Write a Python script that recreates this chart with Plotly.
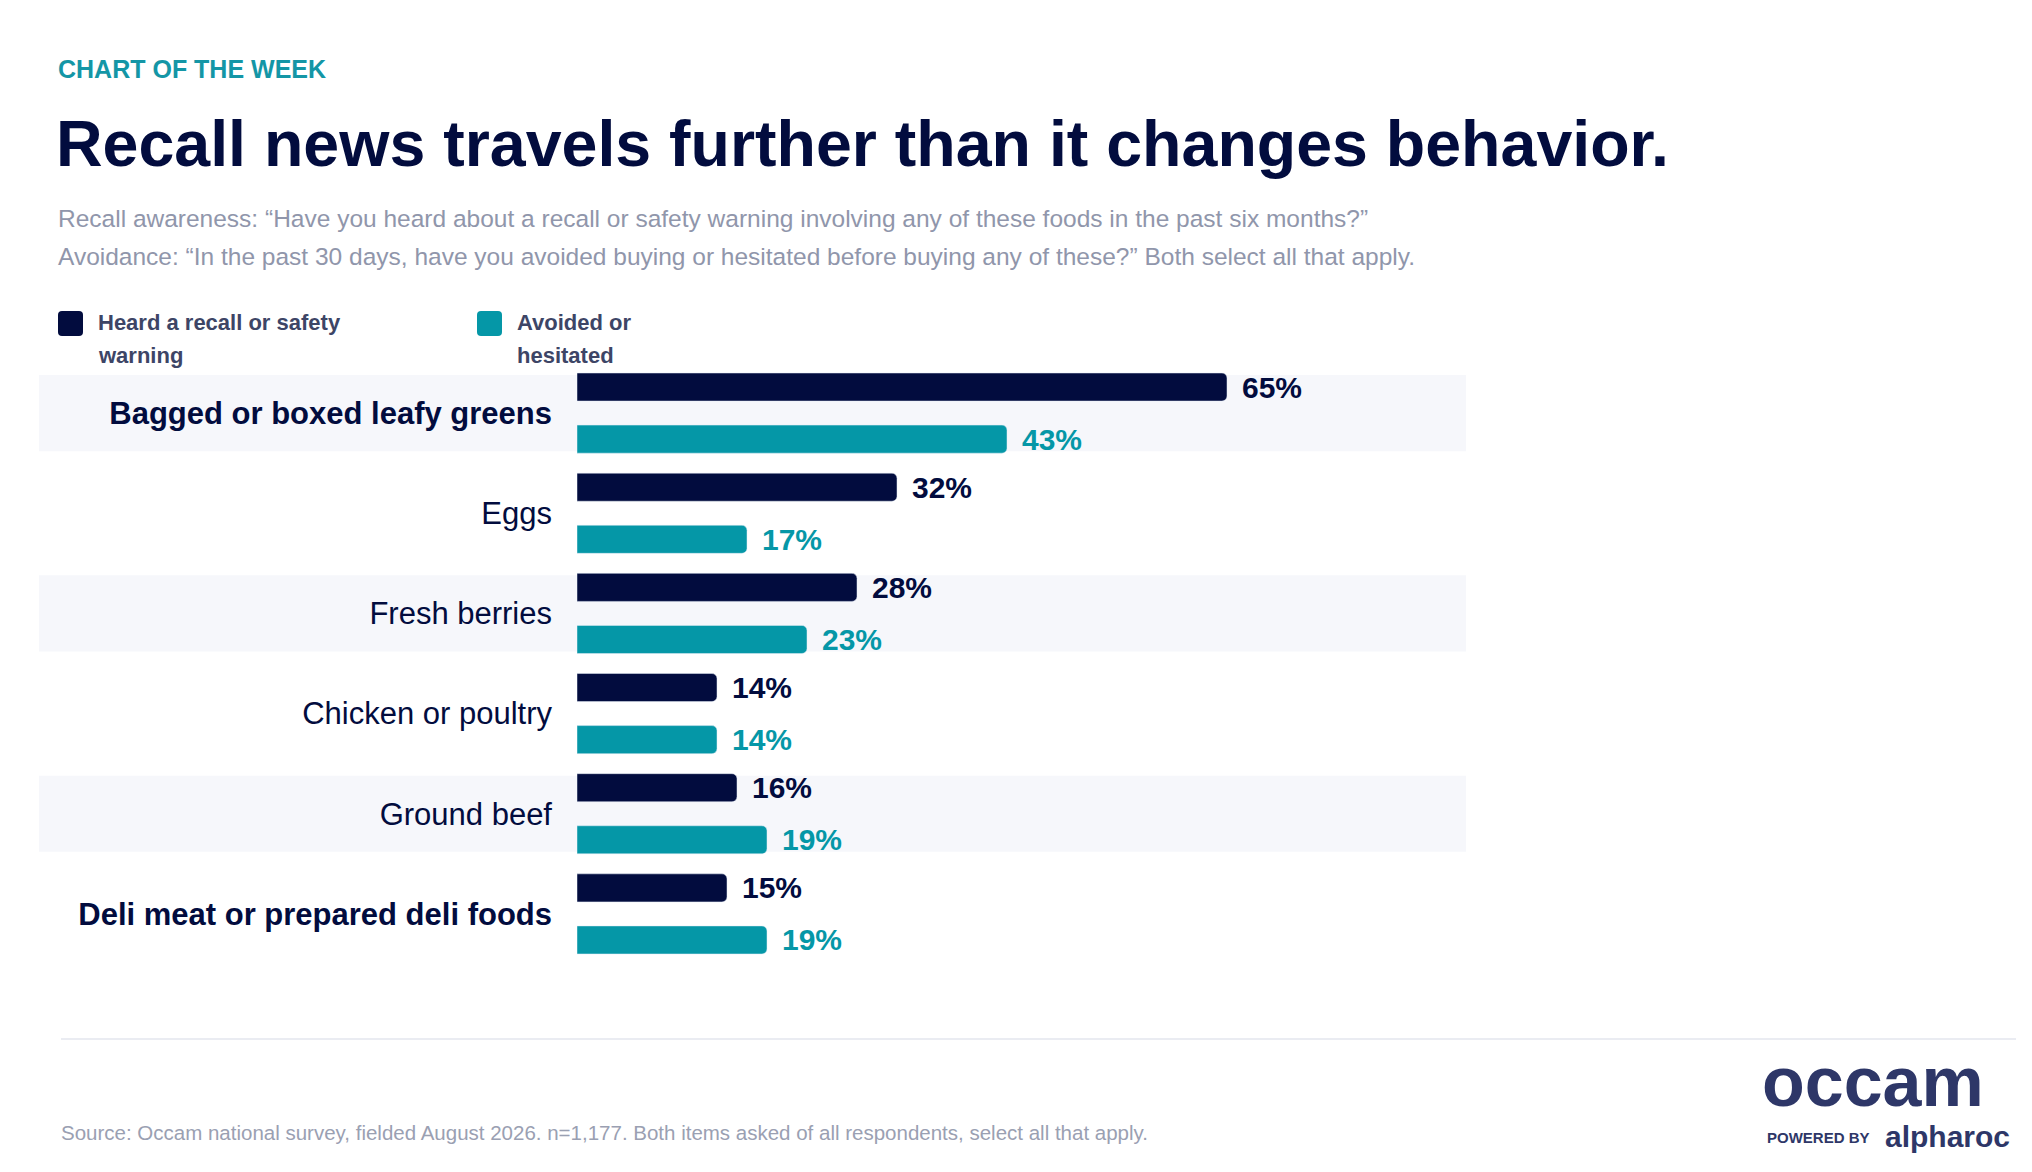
import plotly.graph_objects as go

# survey data
categories = ["Bagged or boxed leafy greens", "Eggs", "Fresh berries",
              "Chicken or poultry", "Ground beef", "Deli meat or prepared deli foods"]
heard = [65, 32, 28, 14, 16, 15]
avoided = [43, 17, 23, 14, 19, 19]
bold_rows = ["Bagged or boxed leafy greens", "Deli meat or prepared deli foods"]
series_names = [["Heard a recall or safety", "warning"], ["Avoided or", "hesitated"]]

NAVY = "#020c3e"
TEAL = "#0597a7"
BAND = "#f6f7fb"
W, H = 2032, 1172
OFF = 8  # page body margin in the browser


def px(x):
    return (x - OFF) / W


def py(y):
    return 1 - (y - OFF) / H


def rrect(x0, y0, x1, y1, r):
    # rounded rectangle path in paper coords from pixel box
    X, Y = px, py
    return (f"M {X(x0 + r)},{Y(y0)} L {X(x1 - r)},{Y(y0)} Q {X(x1)},{Y(y0)} {X(x1)},{Y(y0 + r)} "
            f"L {X(x1)},{Y(y1 - r)} Q {X(x1)},{Y(y1)} {X(x1 - r)},{Y(y1)} "
            f"L {X(x0 + r)},{Y(y1)} Q {X(x0)},{Y(y1)} {X(x0)},{Y(y1 - r)} "
            f"L {X(x0)},{Y(y0 + r)} Q {X(x0)},{Y(y0)} {X(x0 + r)},{Y(y0)} Z")


fig = go.Figure()
fig.add_trace(go.Bar(y=categories, x=heard, orientation="h", width=0.28, offset=-0.40,
                     marker=dict(color=NAVY, cornerradius=5), name="Heard", hoverinfo="x+y"))
fig.add_trace(go.Bar(y=categories, x=avoided, orientation="h", width=0.28, offset=0.12,
                     marker=dict(color=TEAL, cornerradius=5), name="Avoided", hoverinfo="x+y"))

ann = []
# value labels
for c, v in zip(categories, heard):
    ann.append(dict(x=v, y=c, xref="x", yref="y", text=f"<b>{v}%</b>", showarrow=False,
                    xanchor="left", yanchor="middle", xshift=13, yshift=26,
                    font=dict(size=30, color=NAVY)))
for c, v in zip(categories, avoided):
    ann.append(dict(x=v, y=c, xref="x", yref="y", text=f"<b>{v}%</b>", showarrow=False,
                    xanchor="left", yanchor="middle", xshift=13, yshift=-26,
                    font=dict(size=30, color=TEAL)))

# header texts
ann.append(dict(x=px(56), y=py(69), xref="paper", yref="paper", xanchor="left", yanchor="middle",
                text="<b>CHART OF THE WEEK</b>", showarrow=False, font=dict(size=25, color="#1496a6")))
ann.append(dict(x=px(54), y=py(144), xref="paper", yref="paper", xanchor="left", yanchor="middle",
                text="<b>Recall news travels further than it changes behavior.</b>", showarrow=False,
                font=dict(size=64.5, color=NAVY)))
ann.append(dict(x=px(56), y=py(218), xref="paper", yref="paper", xanchor="left", yanchor="middle",
                text="Recall awareness: \u201cHave you heard about a recall or safety warning involving any of these foods in the past six months?\u201d",
                showarrow=False, font=dict(size=24.5, color="#9096ab")))
ann.append(dict(x=px(56), y=py(256), xref="paper", yref="paper", xanchor="left", yanchor="middle",
                text="Avoidance: \u201cIn the past 30 days, have you avoided buying or hesitated before buying any of these?\u201d Both select all that apply.",
                showarrow=False, font=dict(size=24.5, color="#9096ab")))

# custom legend
shapes = []
legend_x = [58, 477]
legend_col = [NAVY, TEAL]
for lx, col, lines in zip(legend_x, legend_col, series_names):
    shapes.append(dict(type="path", xref="paper", yref="paper", path=rrect(lx, 311, lx + 25, 336, 4),
                       fillcolor=col, line=dict(width=0)))
    for k, line in enumerate(lines):
        ann.append(dict(x=px(lx + 38), y=py(322 + 33 * k), xref="paper", yref="paper",
                        xanchor="left", yanchor="middle", text=f"<b>{line}</b>", showarrow=False,
                        font=dict(size=22, color="#3d4566")))

# alternating row bands
for i in range(0, len(categories), 2):
    shapes.append(dict(type="rect", xref="paper", yref="y", x0=px(39), x1=px(1466),
                       y0=i - 0.38, y1=i + 0.38, fillcolor=BAND, line=dict(width=0), layer="below"))

# footer
shapes.append(dict(type="line", xref="paper", yref="paper", x0=px(61), x1=px(2016),
                   y0=py(1039), y1=py(1039), line=dict(color="#e3e6ee", width=1.5)))
ann.append(dict(x=px(59), y=py(1132), xref="paper", yref="paper", xanchor="left", yanchor="middle",
                text="Source: Occam national survey, fielded August 2026. n=1,177. Both items asked of all respondents, select all that apply.",
                showarrow=False, font=dict(size=20.5, color="#9aa0b2")))
ann.append(dict(x=px(1986), y=py(1082), xref="paper", yref="paper", xanchor="right", yanchor="middle",
                text="<b>occam</b>", showarrow=False, font=dict(size=70, color="#2e3768")))
ann.append(dict(x=px(1765), y=py(1137), xref="paper", yref="paper", xanchor="left", yanchor="middle",
                text="<b>POWERED BY</b>", showarrow=False, font=dict(size=15, color="#2e3768")))
ann.append(dict(x=px(2012), y=py(1136), xref="paper", yref="paper", xanchor="right", yanchor="middle",
                text="<b>alpharoc</b>", showarrow=False, font=dict(size=30, color="#2e3768")))

ticktext = [f"<b>{c}</b>" if c in bold_rows else c for c in categories]

fig.update_layout(
    width=W, height=H,
    margin=dict(l=0, r=0, t=0, b=0),
    paper_bgcolor="white", plot_bgcolor="rgba(0,0,0,0)",
    font=dict(family="Liberation Sans, Arial, sans-serif", color=NAVY),
    barmode="overlay", showlegend=False,
    xaxis=dict(domain=[px(577), px(1577)], range=[0, 100], visible=False, fixedrange=True),
    yaxis=dict(domain=[py(964), py(363)], type="category", range=[5.5, -0.5],
               categoryorder="array", categoryarray=categories,
               tickmode="array", tickvals=categories, ticktext=ticktext,
               ticks="", showgrid=False, zeroline=False, showline=False,
               ticklabelstandoff=24, tickfont=dict(size=31, color=NAVY)),
    annotations=ann, shapes=shapes,
)

fig.write_html("out.html")
